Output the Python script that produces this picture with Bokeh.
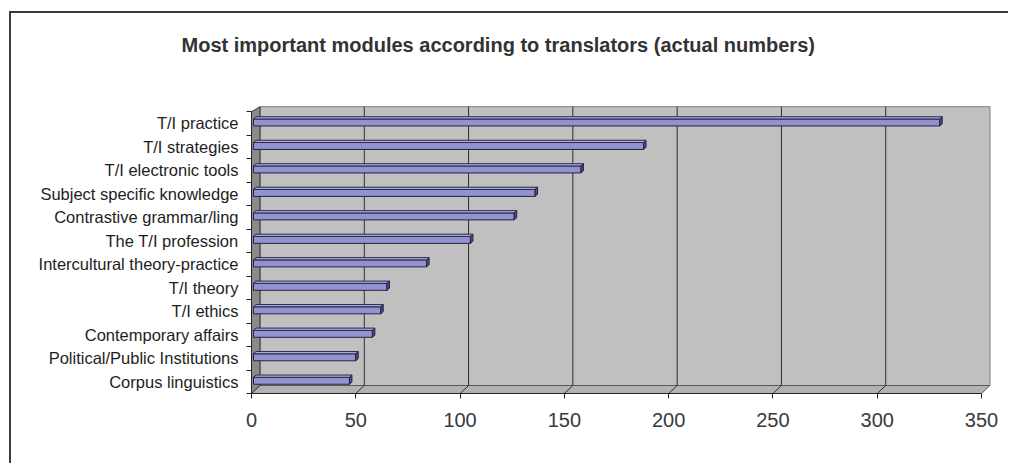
from bokeh.plotting import figure
from bokeh.models import Range1d, FixedTicker, ColumnDataSource
from bokeh.embed import file_html
from bokeh.resources import INLINE

# ---- data -------------------------------------------------------------
modules = [
    "T/I practice",
    "T/I strategies",
    "T/I electronic tools",
    "Subject specific knowledge",
    "Contrastive grammar/ling",
    "The T/I profession",
    "Intercultural theory-practice",
    "T/I theory",
    "T/I ethics",
    "Contemporary affairs",
    "Political/Public Institutions",
    "Corpus linguistics",
]
counts = [329, 187, 157, 135, 125, 104, 83, 64, 61, 57, 49, 46]
x_ticks = [0, 50, 100, 150, 200, 250, 300, 350]
title_text = "Most important modules according to translators (actual numbers)"

# ---- geometry of the pseudo-3D box (in pixels, converted to data units) --
PX_X = 730 / 350          # pixels per count on the front plane
PX_Y = 23.48              # pixels per category row
n = len(modules)
x_max = x_ticks[-1]

FRAME_W = 740             # frame width in px
FRAME_H = 330             # frame height in px (blank band above the wall included)

DX = 8.5 / PX_X           # depth shift of the back wall, horizontal
WALL_BOT = -0.5 + 8 / PX_Y
WALL_TOP = (n - 0.5) + 5 / PX_Y

BAR_X0 = 2 / PX_X         # bars sit slightly behind the front plane
BAR_H = 7 / PX_Y          # front face height
BAR_DX = 2.5 / PX_X       # bar depth shift
BAR_DY = 2.2 / PX_Y
BAR_LIFT = 1.0 / PX_Y

FONT = "Liberation Sans"

p = figure(
    width=999, height=452,
    x_range=Range1d(0, FRAME_W / PX_X),
    y_range=Range1d(-0.5, -0.5 + FRAME_H / PX_Y),
    output_backend="svg", toolbar_location=None,
    min_border_left=240, min_border_right=19,
    min_border_top=50, min_border_bottom=72,
)
p.styles = {
    "margin-left": "9px", "margin-top": "11px",
    "border-left": "2px solid #3c3c3c", "border-top": "2px solid #3c3c3c",
}
p.outline_line_color = None
p.xgrid.visible = False
p.ygrid.visible = False
p.background_fill_color = "white"
p.border_fill_color = "white"

# chart title
p.title.text = title_text
p.title.align = "left"
p.title.offset = -70
p.title.standoff = 16
p.title.text_font = FONT
p.title.text_font_size = "20px"
p.title.text_font_style = "bold"
p.title.text_color = "#333333"

# back wall
p.quad(left=DX, right=x_max + DX, bottom=WALL_BOT, top=WALL_TOP,
       fill_color="#c0c0c0", line_color="#7c7c7c", line_width=1)
# floor
p.patch([0, x_max, x_max + DX, DX], [-0.5, -0.5, WALL_BOT, WALL_BOT],
        fill_color="#b2b2b2", line_color="#5a5a5a", line_width=1)
# left side wall
p.patch([0, 0, DX, DX], [-0.5, n - 0.5, WALL_TOP, WALL_BOT],
        fill_color="#8a8a8a", line_color="#333333", line_width=1)

# gridlines on the back wall and their traces across the floor
inner = x_ticks[1:-1]
p.segment(x0=[t + DX for t in inner], y0=[WALL_BOT] * len(inner),
          x1=[t + DX for t in inner], y1=[WALL_TOP] * len(inner),
          line_color="#2e2e2e", line_width=1)
p.segment(x0=inner, y0=[-0.5] * len(inner),
          x1=[t + DX for t in inner], y1=[WALL_BOT] * len(inner),
          line_color="#2e2e2e", line_width=1)

# bars: front face, top face and end cap
rows = [n - 1 - i for i in range(n)]
yc = [r + BAR_LIFT for r in rows]
x1 = [BAR_X0 + v for v in counts]
ybot = [y - BAR_H / 2 for y in yc]
ytop = [y + BAR_H / 2 for y in yc]

src = ColumnDataSource(dict(left=[BAR_X0] * n, right=x1, bottom=ybot, top=ytop))
p.quad(left="left", right="right", bottom="bottom", top="top", source=src,
       fill_color="#9292cc", line_color="#23234a", line_width=1)

top_xs = [[BAR_X0, r, r + BAR_DX, BAR_X0 + BAR_DX] for r in x1]
top_ys = [[t, t, t + BAR_DY, t + BAR_DY] for t in ytop]
p.patches(top_xs, top_ys, fill_color="#b8b8e2", line_color="#23234a", line_width=1)

cap_xs = [[r, r + BAR_DX, r + BAR_DX, r] for r in x1]
cap_ys = [[b, b + BAR_DY, t + BAR_DY, t] for b, t in zip(ybot, ytop)]
p.patches(cap_xs, cap_ys, fill_color="#4c4c80", line_color="#23234a", line_width=1)

# axes
xa = p.xaxis[0]
xa.bounds = (0, x_max)
xa.ticker = FixedTicker(ticks=x_ticks)
xa.axis_line_color = "#222222"
xa.major_tick_line_color = "#222222"
xa.major_tick_out = 5
xa.major_tick_in = 0
xa.minor_tick_line_color = None
xa.major_label_text_font = FONT
xa.major_label_text_font_size = "20px"
xa.major_label_text_color = "#3a3a3a"
xa.major_label_standoff = 14

ya = p.yaxis[0]
ya.bounds = (-0.5, n - 0.5)
ya.ticker = FixedTicker(ticks=list(range(n)), minor_ticks=[k - 0.5 for k in range(n + 1)])
ya.major_label_overrides = {r: m for r, m in zip(rows, modules)}
ya.axis_line_color = "#222222"
ya.major_tick_out = 0
ya.major_tick_in = 0
ya.minor_tick_line_color = "#222222"
ya.minor_tick_out = 5
ya.minor_tick_in = 0
ya.major_label_text_font = FONT
ya.major_label_text_font_size = "16.5px"
ya.major_label_text_color = "#1e1e1e"
ya.major_label_standoff = 8

open("out.html", "w").write(file_html(p, INLINE))
